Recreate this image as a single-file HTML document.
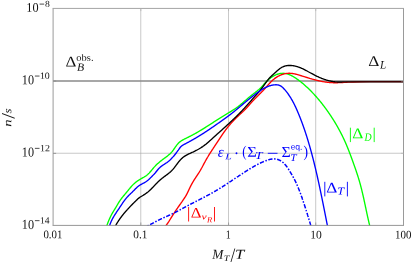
<!DOCTYPE html>
<html><head><meta charset="utf-8"><title>plot</title>
<style>html,body{margin:0;padding:0;background:#fff;}body{width:413px;height:265px;overflow:hidden;font-family:"Liberation Serif",serif;}</style></head>
<body>
<svg width="413" height="265" viewBox="0 0 413 265" style="display:block;font-kerning:none;will-change:transform">
<rect width="413" height="265" fill="#fff"/>
<defs><clipPath id="c"><rect x="53.10" y="8.50" width="350.40" height="217.40"/></clipPath></defs>
<line x1="140.78" y1="8.50" x2="140.78" y2="225.40" stroke="#a4a4a4" stroke-width="0.6"/>
<line x1="228.50" y1="8.50" x2="228.50" y2="225.40" stroke="#a4a4a4" stroke-width="0.6"/>
<line x1="315.70" y1="8.50" x2="315.70" y2="225.40" stroke="#a4a4a4" stroke-width="0.6"/>
<line x1="53.10" y1="153.25" x2="403.50" y2="153.25" stroke="#a4a4a4" stroke-width="0.6"/>
<line x1="53.10" y1="80.90" x2="403.50" y2="80.90" stroke="#8a8a8a" stroke-width="1.5"/>
<g clip-path="url(#c)" fill="none" stroke-width="1.35" stroke-linejoin="round">
<path d="M106.42 227.01 L106.63 226.33 L106.85 225.65 L107.08 224.97 L107.31 224.30 L107.55 223.62 L107.80 222.96 L108.05 222.29 L108.31 221.63 L108.58 220.97 L108.85 220.31 L109.13 219.66 L109.42 219.01 L109.71 218.36 L110.01 217.72 L110.31 217.08 L110.63 216.44 L110.94 215.81 L111.27 215.18 L111.60 214.55 L111.94 213.93 L112.28 213.31 L112.63 212.70 L112.99 212.08 L113.35 211.47 L113.72 210.87 L114.09 210.26 L114.47 209.66 L114.84 209.05 L115.22 208.45 L115.59 207.84 L115.96 207.23 L116.32 206.62 L116.68 206.00 L117.04 205.38 L117.40 204.77 L117.76 204.15 L118.12 203.53 L118.48 202.92 L118.85 202.32 L119.23 201.71 L119.62 201.12 L120.01 200.53 L120.42 199.96 L120.83 199.38 L121.25 198.82 L121.68 198.26 L122.11 197.70 L122.55 197.15 L122.99 196.60 L123.44 196.05 L123.89 195.51 L124.35 194.96 L124.80 194.42 L125.26 193.87 L125.72 193.33 L126.17 192.78 L126.63 192.23 L127.09 191.68 L127.54 191.13 L127.99 190.57 L128.44 190.01 L128.89 189.45 L129.34 188.90 L129.80 188.34 L130.26 187.79 L130.72 187.25 L131.18 186.71 L131.66 186.17 L132.14 185.65 L132.62 185.13 L133.12 184.62 L133.62 184.13 L134.13 183.64 L134.66 183.17 L135.19 182.72 L135.74 182.28 L136.30 181.84 L136.86 181.42 L137.44 181.02 L138.02 180.62 L138.61 180.23 L139.21 179.85 L139.81 179.48 L140.42 179.11 L141.04 178.75 L141.66 178.40 L142.29 178.05 L142.91 177.70 L143.54 177.35 L144.16 177.00 L144.77 176.63 L145.37 176.25 L145.96 175.86 L146.53 175.45 L147.08 175.02 L147.62 174.57 L148.14 174.09 L148.64 173.60 L149.13 173.10 L149.61 172.58 L150.08 172.05 L150.54 171.51 L151.00 170.96 L151.45 170.41 L151.91 169.86 L152.36 169.30 L152.81 168.75 L153.27 168.21 L153.74 167.67 L154.21 167.13 L154.69 166.61 L155.18 166.09 L155.67 165.58 L156.17 165.08 L156.68 164.58 L157.20 164.10 L157.72 163.62 L158.24 163.14 L158.78 162.67 L159.31 162.21 L159.86 161.76 L160.41 161.31 L160.96 160.87 L161.52 160.43 L162.09 160.00 L162.65 159.58 L163.23 159.16 L163.80 158.73 L164.37 158.31 L164.94 157.89 L165.51 157.47 L166.08 157.05 L166.64 156.62 L167.20 156.19 L167.75 155.75 L168.30 155.30 L168.84 154.84 L169.37 154.38 L169.89 153.90 L170.40 153.42 L170.89 152.91 L171.38 152.40 L171.85 151.87 L172.30 151.32 L172.75 150.76 L173.18 150.19 L173.60 149.60 L174.02 149.01 L174.43 148.42 L174.85 147.82 L175.26 147.23 L175.67 146.64 L176.09 146.05 L176.52 145.47 L176.95 144.91 L177.40 144.36 L177.86 143.82 L178.33 143.30 L178.83 142.80 L179.34 142.33 L179.88 141.88 L180.43 141.46 L181.01 141.06 L181.60 140.67 L182.20 140.30 L182.82 139.95 L183.44 139.61 L184.07 139.27 L184.71 138.95 L185.35 138.63 L185.99 138.31 L186.62 137.99 L187.26 137.67 L187.90 137.35 L188.54 137.03 L189.17 136.71 L189.81 136.38 L190.44 136.06 L191.08 135.74 L191.71 135.41 L192.34 135.08 L192.97 134.75 L193.59 134.41 L194.22 134.07 L194.84 133.73 L195.46 133.39 L196.08 133.04 L196.70 132.69 L197.31 132.34 L197.93 131.98 L198.54 131.63 L199.15 131.27 L199.77 130.90 L200.37 130.54 L200.98 130.17 L201.59 129.81 L202.19 129.44 L202.80 129.06 L203.40 128.69 L204.01 128.31 L204.61 127.94 L205.21 127.56 L205.81 127.18 L206.41 126.80 L207.01 126.42 L207.61 126.04 L208.21 125.65 L208.81 125.27 L209.40 124.88 L210.00 124.50 L210.60 124.11 L211.19 123.73 L211.79 123.34 L212.39 122.95 L212.98 122.57 L213.58 122.18 L214.18 121.80 L214.78 121.41 L215.37 121.02 L215.97 120.64 L216.57 120.25 L217.17 119.87 L217.77 119.49 L218.37 119.10 L218.97 118.72 L219.57 118.34 L220.17 117.96 L220.77 117.58 L221.38 117.21 L221.98 116.83 L222.59 116.46 L223.19 116.09 L223.80 115.72 L224.41 115.35 L225.02 114.98 L225.63 114.61 L226.24 114.25 L226.85 113.88 L227.46 113.52 L228.07 113.16 L228.68 112.79 L229.29 112.42 L229.90 112.06 L230.51 111.69 L231.11 111.32 L231.72 110.94 L232.32 110.57 L232.92 110.19 L233.51 109.80 L234.11 109.41 L234.70 109.02 L235.29 108.63 L235.87 108.22 L236.45 107.82 L237.02 107.40 L237.60 106.99 L238.16 106.56 L238.72 106.13 L239.28 105.69 L239.84 105.25 L240.39 104.80 L240.93 104.35 L241.48 103.89 L242.02 103.43 L242.56 102.97 L243.10 102.50 L243.64 102.03 L244.17 101.56 L244.71 101.09 L245.25 100.62 L245.78 100.15 L246.32 99.68 L246.86 99.21 L247.39 98.75 L247.93 98.28 L248.48 97.82 L249.02 97.36 L249.57 96.90 L250.12 96.45 L250.67 96.00 L251.23 95.55 L251.79 95.11 L252.36 94.68 L252.92 94.24 L253.49 93.81 L254.05 93.38 L254.62 92.95 L255.18 92.52 L255.74 92.08 L256.30 91.64 L256.86 91.20 L257.41 90.76 L257.95 90.31 L258.49 89.85 L259.02 89.39 L259.54 88.91 L260.05 88.43 L260.56 87.94 L261.05 87.44 L261.54 86.93 L262.01 86.41 L262.49 85.88 L262.95 85.36 L263.42 84.83 L263.89 84.30 L264.36 83.77 L264.84 83.24 L265.32 82.72 L265.81 82.21 L266.30 81.70 L266.80 81.19 L267.31 80.70 L267.83 80.21 L268.35 79.73 L268.89 79.26 L269.43 78.80 L269.99 78.36 L270.56 77.92 L271.13 77.51 L271.72 77.10 L272.32 76.71 L272.93 76.34 L273.55 75.98 L274.18 75.64 L274.82 75.32 L275.47 75.01 L276.14 74.73 L276.81 74.47 L277.49 74.23 L278.18 74.02 L278.87 73.83 L279.57 73.66 L280.27 73.53 L280.97 73.42 L281.67 73.35 L282.37 73.30 L283.07 73.28 L283.77 73.30 L284.47 73.36 L285.16 73.44 L285.84 73.56 L286.52 73.71 L287.20 73.89 L287.87 74.10 L288.53 74.33 L289.19 74.58 L289.85 74.86 L290.50 75.16 L291.15 75.47 L291.79 75.80 L292.42 76.15 L293.05 76.51 L293.67 76.88 L294.29 77.25 L294.90 77.64 L295.51 78.03 L296.11 78.43 L296.70 78.83 L297.29 79.24 L297.87 79.66 L298.45 80.08 L299.02 80.50 L299.59 80.93 L300.15 81.36 L300.71 81.80 L301.27 82.24 L301.82 82.69 L302.37 83.14 L302.91 83.60 L303.45 84.05 L303.99 84.52 L304.52 84.98 L305.05 85.45 L305.58 85.92 L306.10 86.40 L306.62 86.88 L307.14 87.36 L307.66 87.84 L308.17 88.33 L308.68 88.82 L309.19 89.31 L309.70 89.81 L310.20 90.31 L310.70 90.81 L311.20 91.32 L311.70 91.82 L312.19 92.34 L312.68 92.85 L313.17 93.36 L313.65 93.88 L314.13 94.40 L314.61 94.93 L315.09 95.45 L315.56 95.98 L316.04 96.51 L316.51 97.04 L316.97 97.58 L317.44 98.12 L317.90 98.66 L318.36 99.20 L318.82 99.74 L319.28 100.29 L319.73 100.84 L320.18 101.39 L320.63 101.94 L321.07 102.50 L321.52 103.05 L321.96 103.61 L322.40 104.17 L322.83 104.74 L323.27 105.30 L323.70 105.87 L324.13 106.43 L324.56 107.00 L324.98 107.57 L325.41 108.15 L325.83 108.72 L326.25 109.30 L326.66 109.87 L327.08 110.45 L327.49 111.03 L327.90 111.62 L328.31 112.20 L328.71 112.78 L329.12 113.37 L329.52 113.96 L329.92 114.55 L330.32 115.14 L330.71 115.73 L331.10 116.32 L331.49 116.92 L331.88 117.51 L332.27 118.11 L332.65 118.71 L333.03 119.31 L333.41 119.91 L333.79 120.51 L334.16 121.12 L334.53 121.72 L334.90 122.33 L335.27 122.94 L335.63 123.55 L335.99 124.16 L336.35 124.77 L336.71 125.39 L337.07 126.00 L337.42 126.62 L337.77 127.24 L338.11 127.86 L338.46 128.48 L338.80 129.10 L339.14 129.72 L339.48 130.35 L339.81 130.98 L340.15 131.60 L340.48 132.23 L340.80 132.86 L341.13 133.49 L341.45 134.13 L341.77 134.76 L342.09 135.40 L342.40 136.03 L342.71 136.67 L343.02 137.31 L343.33 137.95 L343.63 138.59 L343.93 139.24 L344.23 139.88 L344.53 140.53 L344.82 141.17 L345.11 141.82 L345.40 142.47 L345.68 143.12 L345.97 143.77 L346.25 144.43 L346.52 145.08 L346.80 145.73 L347.07 146.39 L347.34 147.05 L347.61 147.71 L347.88 148.37 L348.14 149.02 L348.40 149.69 L348.66 150.35 L348.92 151.01 L349.18 151.67 L349.44 152.34 L349.69 153.00 L349.94 153.67 L350.20 154.33 L350.45 155.00 L350.70 155.66 L350.94 156.33 L351.19 157.00 L351.44 157.67 L351.68 158.34 L351.92 159.00 L352.17 159.67 L352.41 160.34 L352.65 161.01 L352.89 161.68 L353.13 162.35 L353.37 163.02 L353.61 163.69 L353.85 164.36 L354.09 165.03 L354.33 165.70 L354.56 166.37 L354.80 167.04 L355.03 167.72 L355.27 168.39 L355.50 169.06 L355.73 169.73 L355.96 170.40 L356.19 171.08 L356.42 171.75 L356.64 172.42 L356.87 173.10 L357.09 173.77 L357.31 174.45 L357.53 175.13 L357.75 175.80 L357.96 176.48 L358.18 177.16 L358.39 177.83 L358.60 178.51 L358.80 179.19 L359.01 179.87 L359.21 180.55 L359.41 181.23 L359.60 181.92 L359.80 182.60 L359.99 183.28 L360.18 183.97 L360.37 184.65 L360.55 185.34 L360.73 186.02 L360.91 186.71 L361.09 187.40 L361.27 188.09 L361.44 188.78 L361.61 189.46 L361.78 190.15 L361.95 190.84 L362.12 191.54 L362.28 192.23 L362.45 192.92 L362.61 193.61 L362.77 194.30 L362.93 195.00 L363.09 195.69 L363.25 196.38 L363.40 197.08 L363.56 197.77 L363.71 198.46 L363.87 199.16 L364.02 199.85 L364.17 200.55 L364.32 201.24 L364.47 201.94 L364.62 202.63 L364.77 203.33 L364.92 204.03 L365.07 204.72 L365.22 205.42 L365.36 206.11 L365.51 206.81 L365.66 207.51 L365.81 208.20 L365.95 208.90 L366.10 209.59 L366.25 210.29 L366.40 210.99 L366.54 211.68 L366.69 212.38 L366.84 213.07 L366.99 213.77 L367.14 214.46 L367.29 215.16 L367.44 215.85 L367.59 216.55 L367.75 217.24 L367.90 217.94 L368.06 218.63 L368.21 219.32 L368.37 220.02 L368.53 220.71 L368.69 221.40 L368.85 222.09 L369.01 222.79 L369.17 223.48 L369.34 224.17 L369.50 224.86 L369.67 225.55 L369.84 226.24 L370.01 226.92 L370.19 227.61 L370.36 228.30 L370.54 228.99" stroke="#00ff00"/>
<path d="M163.27 228.98 L163.57 228.64 L163.86 228.30 L164.15 227.95 L164.44 227.60 L164.72 227.25 L165.00 226.90 L165.27 226.54 L165.54 226.18 L165.81 225.82 L166.08 225.46 L166.35 225.10 L166.61 224.74 L166.87 224.37 L167.12 224.00 L167.38 223.63 L167.63 223.26 L167.88 222.89 L168.13 222.52 L168.38 222.14 L168.63 221.77 L168.87 221.39 L169.11 221.01 L169.36 220.64 L169.60 220.26 L169.84 219.88 L170.08 219.50 L170.32 219.12 L170.56 218.74 L170.79 218.36 L171.03 217.98 L171.27 217.59 L171.51 217.21 L171.74 216.83 L171.98 216.45 L172.22 216.07 L172.46 215.69 L172.70 215.31 L172.93 214.93 L173.17 214.55 L173.42 214.17 L173.66 213.79 L173.90 213.41 L174.15 213.04 L174.39 212.66 L174.64 212.28 L174.89 211.91 L175.14 211.54 L175.39 211.16 L175.64 210.79 L175.89 210.42 L176.14 210.05 L176.40 209.67 L176.65 209.30 L176.90 208.93 L177.16 208.56 L177.42 208.20 L177.67 207.83 L177.93 207.46 L178.19 207.09 L178.45 206.72 L178.70 206.35 L178.96 205.99 L179.22 205.62 L179.48 205.25 L179.74 204.88 L180.00 204.52 L180.26 204.15 L180.52 203.78 L180.78 203.42 L181.03 203.05 L181.29 202.68 L181.55 202.31 L181.81 201.94 L182.07 201.58 L182.32 201.21 L182.58 200.84 L182.83 200.47 L183.09 200.10 L183.34 199.73 L183.60 199.36 L183.85 198.99 L184.10 198.62 L184.35 198.25 L184.59 197.87 L184.84 197.50 L185.08 197.12 L185.32 196.74 L185.55 196.36 L185.78 195.98 L186.01 195.59 L186.23 195.20 L186.45 194.81 L186.66 194.42 L186.87 194.02 L187.07 193.63 L187.27 193.23 L187.47 192.82 L187.67 192.42 L187.86 192.02 L188.05 191.61 L188.24 191.20 L188.43 190.80 L188.62 190.39 L188.80 189.98 L188.99 189.57 L189.18 189.16 L189.37 188.76 L189.56 188.35 L189.76 187.94 L189.95 187.54 L190.15 187.14 L190.35 186.73 L190.55 186.33 L190.76 185.93 L190.96 185.53 L191.17 185.14 L191.38 184.74 L191.59 184.34 L191.81 183.95 L192.03 183.55 L192.24 183.16 L192.47 182.77 L192.69 182.38 L192.91 181.99 L193.14 181.61 L193.37 181.22 L193.60 180.83 L193.84 180.45 L194.07 180.07 L194.31 179.69 L194.55 179.31 L194.80 178.93 L195.04 178.55 L195.29 178.18 L195.53 177.80 L195.78 177.43 L196.03 177.05 L196.28 176.68 L196.53 176.30 L196.78 175.93 L197.03 175.56 L197.28 175.18 L197.53 174.81 L197.78 174.43 L198.02 174.06 L198.27 173.68 L198.51 173.30 L198.76 172.93 L199.00 172.55 L199.24 172.17 L199.47 171.78 L199.70 171.40 L199.94 171.01 L200.16 170.63 L200.39 170.24 L200.62 169.85 L200.84 169.46 L201.06 169.07 L201.28 168.68 L201.50 168.29 L201.71 167.89 L201.93 167.50 L202.14 167.10 L202.36 166.71 L202.57 166.31 L202.78 165.91 L203.00 165.52 L203.21 165.12 L203.42 164.73 L203.63 164.33 L203.84 163.93 L204.05 163.53 L204.26 163.14 L204.48 162.74 L204.69 162.35 L204.90 161.95 L205.12 161.56 L205.33 161.16 L205.55 160.77 L205.77 160.38 L205.98 159.98 L206.20 159.59 L206.43 159.20 L206.65 158.81 L206.87 158.43 L207.10 158.04 L207.33 157.65 L207.56 157.27 L207.78 156.88 L208.02 156.50 L208.25 156.11 L208.48 155.73 L208.71 155.35 L208.95 154.97 L209.18 154.58 L209.42 154.20 L209.66 153.82 L209.90 153.44 L210.14 153.06 L210.38 152.69 L210.62 152.31 L210.86 151.93 L211.10 151.55 L211.35 151.18 L211.59 150.80 L211.84 150.42 L212.08 150.05 L212.33 149.67 L212.57 149.30 L212.82 148.92 L213.07 148.55 L213.31 148.17 L213.56 147.80 L213.81 147.42 L214.06 147.05 L214.31 146.68 L214.55 146.30 L214.80 145.93 L215.05 145.56 L215.30 145.18 L215.55 144.81 L215.80 144.44 L216.05 144.06 L216.30 143.69 L216.55 143.31 L216.80 142.94 L217.05 142.57 L217.30 142.19 L217.55 141.82 L217.80 141.44 L218.04 141.07 L218.29 140.69 L218.54 140.32 L218.79 139.94 L219.03 139.57 L219.28 139.19 L219.53 138.82 L219.78 138.44 L220.02 138.07 L220.27 137.69 L220.52 137.32 L220.77 136.94 L221.02 136.57 L221.27 136.19 L221.52 135.82 L221.77 135.45 L222.02 135.08 L222.27 134.70 L222.52 134.33 L222.78 133.96 L223.03 133.59 L223.28 133.22 L223.54 132.85 L223.80 132.48 L224.06 132.12 L224.32 131.75 L224.58 131.39 L224.84 131.02 L225.10 130.66 L225.37 130.30 L225.63 129.94 L225.90 129.58 L226.17 129.22 L226.44 128.86 L226.72 128.51 L226.99 128.15 L227.27 127.80 L227.55 127.45 L227.83 127.10 L228.11 126.75 L228.39 126.40 L228.68 126.06 L228.97 125.71 L229.25 125.37 L229.54 125.03 L229.84 124.69 L230.13 124.35 L230.42 124.01 L230.72 123.67 L231.02 123.34 L231.32 123.00 L231.62 122.67 L231.92 122.34 L232.22 122.00 L232.53 121.68 L232.83 121.35 L233.14 121.02 L233.45 120.69 L233.76 120.37 L234.07 120.05 L234.38 119.72 L234.70 119.40 L235.01 119.08 L235.33 118.76 L235.65 118.45 L235.97 118.13 L236.29 117.81 L236.61 117.50 L236.93 117.19 L237.26 116.87 L237.58 116.56 L237.91 116.25 L238.23 115.94 L238.56 115.64 L238.89 115.33 L239.22 115.02 L239.55 114.72 L239.88 114.41 L240.21 114.11 L240.54 113.80 L240.87 113.50 L241.20 113.19 L241.53 112.89 L241.86 112.58 L242.19 112.28 L242.52 111.97 L242.85 111.66 L243.17 111.36 L243.50 111.05 L243.82 110.74 L244.15 110.43 L244.47 110.11 L244.79 109.80 L245.11 109.48 L245.42 109.17 L245.74 108.85 L246.05 108.52 L246.36 108.20 L246.67 107.87 L246.97 107.54 L247.28 107.21 L247.58 106.88 L247.88 106.55 L248.18 106.21 L248.47 105.87 L248.77 105.53 L249.06 105.19 L249.36 104.85 L249.65 104.51 L249.95 104.17 L250.24 103.84 L250.54 103.50 L250.83 103.16 L251.13 102.82 L251.43 102.49 L251.73 102.15 L252.03 101.82 L252.33 101.49 L252.64 101.16 L252.94 100.83 L253.25 100.50 L253.56 100.18 L253.87 99.85 L254.18 99.53 L254.50 99.21 L254.81 98.89 L255.13 98.57 L255.44 98.25 L255.76 97.93 L256.08 97.61 L256.39 97.29 L256.71 96.98 L257.03 96.66 L257.35 96.34 L257.67 96.03 L257.98 95.71 L258.30 95.39 L258.62 95.08 L258.94 94.76 L259.26 94.45 L259.58 94.13 L259.90 93.81 L260.21 93.50 L260.53 93.18 L260.85 92.86 L261.16 92.54 L261.48 92.22 L261.79 91.90 L262.10 91.58 L262.41 91.26 L262.72 90.94 L263.03 90.61 L263.34 90.29 L263.65 89.96 L263.95 89.63 L264.25 89.30 L264.55 88.96 L264.85 88.63 L265.15 88.30 L265.45 87.96 L265.75 87.62 L266.04 87.28 L266.34 86.94 L266.64 86.61 L266.93 86.27 L267.23 85.93 L267.52 85.59 L267.82 85.25 L268.12 84.92 L268.42 84.58 L268.72 84.24 L269.02 83.91 L269.32 83.58 L269.62 83.25 L269.93 82.92 L270.24 82.60 L270.55 82.27 L270.86 81.95 L271.18 81.64 L271.50 81.32 L271.82 81.01 L272.14 80.70 L272.47 80.40 L272.80 80.10 L273.14 79.80 L273.48 79.51 L273.82 79.22 L274.17 78.94 L274.52 78.66 L274.88 78.39 L275.24 78.12 L275.60 77.86 L275.98 77.61 L276.35 77.36 L276.73 77.11 L277.12 76.88 L277.51 76.65 L277.90 76.42 L278.30 76.20 L278.70 75.99 L279.11 75.79 L279.52 75.59 L279.93 75.40 L280.35 75.21 L280.77 75.04 L281.19 74.87 L281.61 74.71 L282.04 74.55 L282.47 74.41 L282.90 74.27 L283.33 74.14 L283.76 74.02 L284.20 73.91 L284.64 73.81 L285.08 73.71 L285.52 73.63 L285.96 73.55 L286.40 73.48 L286.84 73.42 L287.28 73.38 L287.72 73.34 L288.17 73.31 L288.61 73.29 L289.05 73.28 L289.49 73.28 L289.93 73.29 L290.38 73.31 L290.82 73.34 L291.26 73.37 L291.70 73.42 L292.14 73.47 L292.57 73.53 L293.01 73.60 L293.45 73.67 L293.89 73.75 L294.33 73.84 L294.76 73.93 L295.20 74.03 L295.64 74.13 L296.08 74.24 L296.51 74.35 L296.95 74.47 L297.38 74.59 L297.82 74.71 L298.25 74.83 L298.69 74.96 L299.12 75.09 L299.56 75.22 L299.99 75.36 L300.43 75.49 L300.86 75.62 L301.30 75.76 L301.73 75.89 L302.16 76.03 L302.60 76.16 L303.03 76.30 L303.46 76.43 L303.90 76.57 L304.33 76.70 L304.76 76.84 L305.19 76.97 L305.63 77.10 L306.06 77.24 L306.49 77.37 L306.93 77.50 L307.36 77.64 L307.79 77.77 L308.22 77.90 L308.66 78.03 L309.09 78.16 L309.52 78.29 L309.95 78.42 L310.39 78.54 L310.82 78.67 L311.25 78.80 L311.69 78.92 L312.12 79.04 L312.55 79.17 L312.99 79.29 L313.42 79.41 L313.85 79.53 L314.29 79.64 L314.72 79.76 L315.15 79.87 L315.59 79.99 L316.02 80.10 L316.46 80.21 L316.89 80.32 L317.33 80.42 L317.76 80.53 L318.20 80.63 L318.63 80.73 L319.07 80.83 L319.50 80.93 L319.94 81.03 L320.38 81.12 L320.81 81.21 L321.25 81.30 L321.69 81.39 L322.13 81.47 L322.57 81.55 L323.00 81.63 L323.44 81.71 L323.88 81.79 L324.32 81.86 L324.76 81.93 L325.20 82.00 L325.64 82.06 L326.08 82.13 L326.53 82.19 L326.97 82.24 L327.41 82.30 L327.85 82.35 L328.30 82.39 L328.74 82.44 L329.19 82.48 L329.63 82.52 L330.08 82.56 L330.52 82.59 L330.97 82.62 L331.42 82.64 L331.86 82.67 L332.31 82.69 L332.76 82.70 L333.21 82.71 L333.66 82.73 L334.11 82.73 L334.56 82.74 L335.01 82.74 L335.46 82.74 L335.91 82.74 L336.37 82.73 L336.82 82.73 L337.27 82.72 L337.72 82.71 L338.17 82.69 L338.63 82.68 L339.08 82.66 L339.53 82.65 L339.98 82.63 L340.44 82.61 L340.89 82.58 L341.34 82.56 L341.79 82.54 L342.24 82.51 L342.70 82.49 L343.15 82.46 L343.60 82.44 L344.05 82.41 L344.50 82.39 L344.95 82.36 L345.40 82.33 L345.85 82.30 L346.30 82.28 L346.75 82.25 L347.20 82.22 L347.65 82.20 L348.10 82.17 L348.54 82.15 L348.99 82.12 L349.44 82.10 L349.88 82.08 L350.33 82.06 L350.77 82.04 L351.21 82.02 L351.66 82.00 L352.10 81.99 L352.54 81.97 L352.98 81.96 L360.00 81.75 L370.00 81.65 L404.00 81.60" stroke="#ff0000"/>
<path d="M114.87 226.99 L115.11 226.54 L115.35 226.09 L115.59 225.64 L115.83 225.20 L116.08 224.75 L116.34 224.31 L116.59 223.87 L116.85 223.44 L117.12 223.00 L117.38 222.57 L117.65 222.14 L117.92 221.71 L118.20 221.29 L118.47 220.86 L118.75 220.44 L119.04 220.02 L119.32 219.60 L119.61 219.19 L119.90 218.77 L120.20 218.36 L120.49 217.95 L120.79 217.54 L121.09 217.14 L121.40 216.73 L121.70 216.33 L122.01 215.93 L122.32 215.53 L122.64 215.13 L122.95 214.73 L123.27 214.34 L123.59 213.94 L123.91 213.55 L124.23 213.16 L124.56 212.77 L124.89 212.38 L125.21 212.00 L125.55 211.61 L125.88 211.23 L126.21 210.85 L126.55 210.47 L126.89 210.09 L127.22 209.71 L127.57 209.34 L127.91 208.96 L128.25 208.59 L128.60 208.22 L128.94 207.84 L129.29 207.47 L129.64 207.10 L129.99 206.74 L130.34 206.37 L130.69 206.00 L131.04 205.64 L131.40 205.27 L131.75 204.91 L132.11 204.55 L132.47 204.19 L132.82 203.83 L133.18 203.47 L133.54 203.11 L133.90 202.75 L134.26 202.39 L134.62 202.04 L134.98 201.68 L135.35 201.33 L135.71 200.97 L136.07 200.62 L136.43 200.26 L136.80 199.91 L137.16 199.56 L137.52 199.21 L137.89 198.87 L138.27 198.53 L138.65 198.20 L139.04 197.89 L139.45 197.59 L139.86 197.30 L140.29 197.03 L140.72 196.76 L141.16 196.50 L141.60 196.25 L142.04 195.99 L142.48 195.73 L142.91 195.47 L143.34 195.20 L143.77 194.93 L144.20 194.65 L144.62 194.37 L145.04 194.09 L145.45 193.80 L145.86 193.51 L146.27 193.21 L146.68 192.91 L147.08 192.60 L147.47 192.29 L147.87 191.98 L148.26 191.66 L148.64 191.33 L149.03 191.00 L149.40 190.67 L149.78 190.33 L150.15 189.99 L150.52 189.64 L150.88 189.29 L151.25 188.93 L151.61 188.57 L151.96 188.21 L152.32 187.85 L152.67 187.49 L153.03 187.12 L153.38 186.75 L153.73 186.38 L154.08 186.01 L154.43 185.64 L154.78 185.27 L155.13 184.90 L155.48 184.53 L155.83 184.16 L156.18 183.79 L156.53 183.42 L156.89 183.06 L157.24 182.69 L157.60 182.33 L157.96 181.97 L158.32 181.62 L158.69 181.27 L159.05 180.92 L159.43 180.57 L159.80 180.23 L160.18 179.89 L160.56 179.56 L160.94 179.24 L161.33 178.91 L161.73 178.60 L162.12 178.28 L162.52 177.97 L162.92 177.67 L163.33 177.36 L163.73 177.06 L164.14 176.76 L164.55 176.46 L164.95 176.16 L165.36 175.86 L165.77 175.56 L166.18 175.26 L166.58 174.96 L166.99 174.65 L167.39 174.35 L167.79 174.04 L168.19 173.73 L168.58 173.42 L168.97 173.10 L169.36 172.78 L169.75 172.46 L170.13 172.13 L170.50 171.79 L170.88 171.45 L171.24 171.10 L171.60 170.75 L171.95 170.38 L172.30 170.01 L172.64 169.64 L172.98 169.25 L173.31 168.87 L173.64 168.47 L173.96 168.08 L174.28 167.67 L174.60 167.27 L174.91 166.86 L175.23 166.45 L175.54 166.04 L175.85 165.62 L176.15 165.21 L176.46 164.80 L176.77 164.38 L177.08 163.97 L177.39 163.56 L177.70 163.14 L178.01 162.74 L178.32 162.33 L178.64 161.93 L178.96 161.53 L179.28 161.14 L179.61 160.75 L179.94 160.37 L180.27 159.99 L180.61 159.62 L180.96 159.26 L181.31 158.90 L181.67 158.56 L182.04 158.22 L182.41 157.89 L182.79 157.57 L183.18 157.26 L183.57 156.96 L183.98 156.67 L184.39 156.39 L184.80 156.12 L185.23 155.85 L185.65 155.60 L186.09 155.34 L186.53 155.10 L186.97 154.86 L187.42 154.63 L187.87 154.40 L188.32 154.17 L188.78 153.95 L189.24 153.73 L189.70 153.52 L190.17 153.30 L190.63 153.09 L191.10 152.88 L191.56 152.67 L192.03 152.46 L192.50 152.24 L192.96 152.03 L193.43 151.82 L193.89 151.60 L194.35 151.38 L194.81 151.16 L195.27 150.94 L195.72 150.71 L196.17 150.47 L196.62 150.24 L197.07 150.00 L197.51 149.76 L197.96 149.51 L198.40 149.27 L198.84 149.01 L199.27 148.76 L199.70 148.50 L200.13 148.24 L200.56 147.97 L200.99 147.70 L201.41 147.43 L201.83 147.15 L202.25 146.87 L202.67 146.59 L203.08 146.30 L203.49 146.01 L203.90 145.71 L204.31 145.41 L204.71 145.11 L205.11 144.80 L205.51 144.49 L205.91 144.18 L206.30 143.86 L206.69 143.54 L207.08 143.21 L207.47 142.89 L207.86 142.55 L208.24 142.22 L208.63 141.89 L209.01 141.55 L209.39 141.21 L209.77 140.87 L210.15 140.53 L210.52 140.19 L210.90 139.84 L211.28 139.50 L211.65 139.15 L212.03 138.81 L212.41 138.47 L212.78 138.12 L213.16 137.78 L213.53 137.44 L213.91 137.09 L214.29 136.75 L214.66 136.41 L215.04 136.07 L215.42 135.73 L215.79 135.39 L216.17 135.05 L216.55 134.71 L216.92 134.37 L217.30 134.03 L217.68 133.69 L218.06 133.35 L218.43 133.01 L218.81 132.67 L219.19 132.34 L219.56 132.00 L219.94 131.66 L220.32 131.32 L220.69 130.98 L221.07 130.64 L221.45 130.31 L221.82 129.97 L222.20 129.63 L222.57 129.29 L222.95 128.95 L223.33 128.61 L223.70 128.27 L224.08 127.93 L224.45 127.60 L224.83 127.26 L225.20 126.92 L225.58 126.58 L225.95 126.24 L226.32 125.89 L226.70 125.55 L227.07 125.21 L227.45 124.87 L227.82 124.53 L228.19 124.18 L228.56 123.84 L228.94 123.50 L229.31 123.15 L229.68 122.81 L230.05 122.46 L230.42 122.12 L230.79 121.77 L231.16 121.42 L231.53 121.08 L231.90 120.73 L232.27 120.38 L232.64 120.03 L233.00 119.68 L233.37 119.33 L233.74 118.98 L234.10 118.63 L234.47 118.28 L234.84 117.92 L235.20 117.57 L235.56 117.22 L235.93 116.86 L236.29 116.51 L236.65 116.15 L237.01 115.80 L237.37 115.44 L237.73 115.08 L238.09 114.72 L238.45 114.36 L238.81 114.00 L239.17 113.64 L239.52 113.28 L239.88 112.92 L240.24 112.55 L240.59 112.19 L240.94 111.83 L241.30 111.46 L241.65 111.10 L242.00 110.73 L242.35 110.36 L242.70 109.99 L243.04 109.62 L243.39 109.25 L243.74 108.88 L244.08 108.51 L244.43 108.14 L244.77 107.76 L245.11 107.39 L245.45 107.02 L245.79 106.64 L246.13 106.26 L246.47 105.89 L246.81 105.51 L247.15 105.13 L247.49 104.75 L247.82 104.37 L248.16 103.99 L248.49 103.61 L248.83 103.23 L249.16 102.85 L249.50 102.47 L249.83 102.09 L250.17 101.71 L250.50 101.33 L250.84 100.95 L251.17 100.57 L251.51 100.19 L251.84 99.80 L252.18 99.42 L252.51 99.04 L252.85 98.66 L253.18 98.29 L253.52 97.91 L253.86 97.53 L254.19 97.15 L254.53 96.77 L254.87 96.40 L255.21 96.02 L255.55 95.65 L255.89 95.27 L256.23 94.89 L256.57 94.52 L256.91 94.14 L257.25 93.77 L257.58 93.39 L257.92 93.01 L258.26 92.63 L258.59 92.25 L258.92 91.87 L259.25 91.48 L259.58 91.09 L259.90 90.71 L260.23 90.32 L260.55 89.92 L260.86 89.53 L261.18 89.13 L261.49 88.73 L261.80 88.32 L262.10 87.92 L262.40 87.51 L262.70 87.10 L263.00 86.68 L263.29 86.27 L263.59 85.85 L263.88 85.44 L264.17 85.02 L264.46 84.60 L264.76 84.19 L265.05 83.77 L265.34 83.35 L265.64 82.94 L265.93 82.53 L266.23 82.12 L266.53 81.71 L266.83 81.30 L267.13 80.90 L267.44 80.50 L267.75 80.10 L268.06 79.71 L268.38 79.32 L268.70 78.93 L269.03 78.55 L269.36 78.17 L269.69 77.80 L270.04 77.44 L270.39 77.08 L270.74 76.73 L271.10 76.38 L271.46 76.03 L271.83 75.69 L272.20 75.34 L272.57 75.01 L272.95 74.67 L273.32 74.33 L273.70 73.99 L274.08 73.65 L274.47 73.31 L274.85 72.96 L275.23 72.61 L275.61 72.26 L276.00 71.91 L276.38 71.56 L276.77 71.21 L277.15 70.87 L277.54 70.52 L277.94 70.18 L278.33 69.85 L278.73 69.52 L279.13 69.19 L279.54 68.88 L279.95 68.57 L280.36 68.28 L280.78 68.00 L281.21 67.72 L281.64 67.46 L282.07 67.22 L282.52 66.99 L282.97 66.77 L283.42 66.58 L283.89 66.40 L284.36 66.23 L284.84 66.09 L285.32 65.96 L285.81 65.84 L286.30 65.74 L286.79 65.66 L287.30 65.59 L287.80 65.54 L288.31 65.50 L288.82 65.47 L289.33 65.45 L289.84 65.45 L290.35 65.46 L290.87 65.49 L291.38 65.52 L291.90 65.57 L292.41 65.62 L292.92 65.69 L293.43 65.77 L293.94 65.85 L294.45 65.95 L294.95 66.06 L295.45 66.17 L295.94 66.29 L296.43 66.42 L296.92 66.56 L297.41 66.70 L297.89 66.86 L298.37 67.02 L298.85 67.18 L299.32 67.35 L299.79 67.53 L300.26 67.72 L300.72 67.91 L301.19 68.10 L301.65 68.30 L302.11 68.51 L302.57 68.72 L303.02 68.93 L303.48 69.15 L303.93 69.37 L304.38 69.60 L304.83 69.83 L305.28 70.06 L305.73 70.29 L306.18 70.53 L306.63 70.77 L307.07 71.01 L307.52 71.25 L307.96 71.50 L308.41 71.74 L308.85 71.99 L309.30 72.23 L309.74 72.48 L310.19 72.73 L310.63 72.98 L311.08 73.22 L311.52 73.47 L311.97 73.71 L312.42 73.96 L312.87 74.20 L313.32 74.44 L313.77 74.68 L314.22 74.91 L314.67 75.15 L315.13 75.38 L315.59 75.61 L316.04 75.83 L316.50 76.06 L316.96 76.28 L317.42 76.50 L317.88 76.72 L318.34 76.93 L318.81 77.14 L319.27 77.35 L319.74 77.55 L320.21 77.75 L320.68 77.95 L321.15 78.14 L321.62 78.33 L322.09 78.52 L322.56 78.70 L323.04 78.88 L323.51 79.05 L323.99 79.23 L324.47 79.39 L324.94 79.55 L325.42 79.71 L325.91 79.87 L326.39 80.02 L326.87 80.16 L327.36 80.30 L327.84 80.43 L328.33 80.56 L328.82 80.69 L329.31 80.81 L329.80 80.92 L330.29 81.03 L330.78 81.14 L331.28 81.24 L331.77 81.33 L332.27 81.42 L332.77 81.50 L333.27 81.57 L333.77 81.64 L334.27 81.71 L334.77 81.76 L335.27 81.82 L335.78 81.86 L336.28 81.90 L336.79 81.93 L337.30 81.96 L337.81 81.98 L338.32 81.99 L338.83 82.00 L339.34 82.00 L339.85 82.00 L340.36 81.99 L340.88 81.98 L341.39 81.97 L341.90 81.96 L342.42 81.94 L342.93 81.93 L343.44 81.91 L343.95 81.90 L344.46 81.89 L344.97 81.88 L345.48 81.87 L345.99 81.87 L346.49 81.87 L347.00 81.87 L347.50 81.88 L348.00 81.89 L348.50 81.92 L348.99 81.94 L404.00 81.93" stroke="#000000"/>
<path d="M109.21 227.02 L109.38 226.39 L109.56 225.77 L109.75 225.15 L109.95 224.53 L110.17 223.93 L110.39 223.33 L110.63 222.74 L110.88 222.15 L111.13 221.56 L111.39 220.99 L111.67 220.41 L111.95 219.85 L112.23 219.28 L112.53 218.72 L112.83 218.17 L113.14 217.61 L113.45 217.07 L113.77 216.52 L114.10 215.98 L114.43 215.44 L114.76 214.90 L115.10 214.36 L115.44 213.83 L115.79 213.30 L116.14 212.77 L116.49 212.24 L116.84 211.71 L117.20 211.18 L117.56 210.65 L117.91 210.13 L118.27 209.60 L118.63 209.07 L118.99 208.54 L119.34 208.01 L119.70 207.48 L120.05 206.95 L120.41 206.42 L120.76 205.88 L121.11 205.35 L121.46 204.82 L121.82 204.28 L122.17 203.75 L122.53 203.22 L122.89 202.70 L123.25 202.17 L123.61 201.65 L123.98 201.13 L124.36 200.62 L124.73 200.11 L125.12 199.60 L125.51 199.10 L125.90 198.61 L126.31 198.12 L126.72 197.64 L127.14 197.17 L127.56 196.70 L128.00 196.24 L128.44 195.79 L128.89 195.34 L129.34 194.89 L129.79 194.45 L130.25 194.01 L130.71 193.57 L131.17 193.13 L131.64 192.68 L132.10 192.24 L132.55 191.79 L133.01 191.34 L133.46 190.89 L133.91 190.43 L134.36 189.97 L134.81 189.51 L135.26 189.05 L135.71 188.60 L136.17 188.15 L136.63 187.71 L137.10 187.27 L137.58 186.85 L138.06 186.45 L138.56 186.05 L139.06 185.67 L139.58 185.31 L140.11 184.97 L140.66 184.65 L141.21 184.34 L141.77 184.04 L142.34 183.74 L142.90 183.45 L143.47 183.15 L144.03 182.86 L144.58 182.55 L145.13 182.23 L145.67 181.90 L146.19 181.55 L146.70 181.18 L147.21 180.80 L147.70 180.40 L148.18 180.00 L148.66 179.58 L149.13 179.15 L149.59 178.72 L150.05 178.28 L150.50 177.83 L150.95 177.38 L151.40 176.93 L151.85 176.48 L152.30 176.02 L152.74 175.57 L153.19 175.11 L153.63 174.65 L154.07 174.19 L154.50 173.72 L154.93 173.25 L155.35 172.77 L155.76 172.28 L156.17 171.78 L156.57 171.28 L156.97 170.78 L157.37 170.28 L157.77 169.78 L158.18 169.29 L158.60 168.81 L159.03 168.34 L159.47 167.89 L159.93 167.45 L160.40 167.04 L160.89 166.64 L161.39 166.25 L161.90 165.88 L162.42 165.51 L162.95 165.16 L163.48 164.81 L164.01 164.46 L164.55 164.11 L165.09 163.77 L165.62 163.42 L166.15 163.06 L166.68 162.70 L167.19 162.33 L167.70 161.95 L168.20 161.55 L168.69 161.15 L169.18 160.74 L169.65 160.32 L170.12 159.89 L170.58 159.45 L171.03 159.01 L171.48 158.55 L171.92 158.09 L172.35 157.63 L172.78 157.16 L173.20 156.68 L173.62 156.20 L174.03 155.72 L174.43 155.23 L174.83 154.74 L175.23 154.24 L175.62 153.74 L176.00 153.23 L176.39 152.72 L176.77 152.20 L177.15 151.69 L177.52 151.16 L177.89 150.64 L178.27 150.11 L178.63 149.58 L179.00 149.05 L179.38 148.52 L179.76 148.00 L180.15 147.49 L180.56 147.01 L181.00 146.55 L181.45 146.12 L181.94 145.73 L182.45 145.37 L182.99 145.04 L183.54 144.73 L184.10 144.43 L184.66 144.14 L185.23 143.85 L185.79 143.55 L186.36 143.25 L186.92 142.96 L187.48 142.66 L188.04 142.36 L188.60 142.06 L189.16 141.75 L189.72 141.45 L190.28 141.14 L190.84 140.83 L191.39 140.52 L191.95 140.21 L192.50 139.90 L193.05 139.58 L193.61 139.27 L194.16 138.95 L194.71 138.63 L195.26 138.31 L195.81 137.99 L196.35 137.66 L196.90 137.34 L197.45 137.01 L197.99 136.68 L198.53 136.35 L199.08 136.02 L199.62 135.69 L200.16 135.35 L200.70 135.02 L201.24 134.68 L201.78 134.34 L202.31 134.00 L202.85 133.66 L203.38 133.32 L203.92 132.97 L204.45 132.63 L204.98 132.28 L205.52 131.93 L206.05 131.58 L206.58 131.23 L207.11 130.88 L207.64 130.53 L208.16 130.17 L208.69 129.82 L209.22 129.46 L209.75 129.10 L210.27 128.75 L210.80 128.39 L211.32 128.03 L211.85 127.67 L212.37 127.31 L212.90 126.95 L213.42 126.59 L213.95 126.23 L214.47 125.87 L214.99 125.50 L215.52 125.14 L216.04 124.78 L216.56 124.41 L217.09 124.05 L217.61 123.69 L218.13 123.32 L218.65 122.96 L219.18 122.59 L219.70 122.23 L220.22 121.86 L220.74 121.50 L221.26 121.13 L221.78 120.76 L222.30 120.39 L222.82 120.02 L223.34 119.65 L223.86 119.28 L224.38 118.91 L224.90 118.54 L225.41 118.16 L225.93 117.79 L226.44 117.41 L226.95 117.04 L227.47 116.66 L227.98 116.28 L228.49 115.90 L229.00 115.52 L229.50 115.13 L230.01 114.75 L230.52 114.36 L231.02 113.97 L231.52 113.58 L232.02 113.19 L232.52 112.80 L233.02 112.40 L233.52 112.01 L234.01 111.61 L234.51 111.21 L235.00 110.81 L235.50 110.41 L235.99 110.01 L236.48 109.60 L236.97 109.20 L237.46 108.79 L237.94 108.39 L238.43 107.98 L238.92 107.57 L239.41 107.16 L239.89 106.75 L240.38 106.34 L240.86 105.93 L241.35 105.52 L241.84 105.11 L242.32 104.70 L242.81 104.29 L243.29 103.88 L243.78 103.47 L244.26 103.06 L244.75 102.65 L245.24 102.25 L245.72 101.84 L246.21 101.43 L246.70 101.02 L247.19 100.62 L247.68 100.21 L248.17 99.80 L248.66 99.40 L249.15 99.00 L249.65 98.60 L250.14 98.20 L250.64 97.80 L251.13 97.40 L251.63 97.00 L252.13 96.61 L252.63 96.22 L253.14 95.82 L253.64 95.43 L254.15 95.05 L254.65 94.66 L255.16 94.28 L255.68 93.90 L256.19 93.52 L256.70 93.14 L257.22 92.76 L257.74 92.39 L258.26 92.02 L258.79 91.66 L259.31 91.29 L259.84 90.93 L260.38 90.57 L260.91 90.22 L261.45 89.88 L261.99 89.54 L262.53 89.20 L263.08 88.88 L263.63 88.56 L264.19 88.25 L264.75 87.95 L265.31 87.66 L265.88 87.38 L266.45 87.11 L267.03 86.85 L267.61 86.60 L268.20 86.37 L268.79 86.14 L269.39 85.94 L269.99 85.74 L270.60 85.57 L271.21 85.40 L271.83 85.26 L272.46 85.13 L273.09 85.02 L273.73 84.93 L274.37 84.85 L275.01 84.80 L275.66 84.77 L276.30 84.78 L276.94 84.81 L277.57 84.88 L278.18 84.99 L278.79 85.13 L279.37 85.32 L279.94 85.56 L280.49 85.84 L281.01 86.17 L281.53 86.52 L282.02 86.91 L282.50 87.33 L282.97 87.77 L283.43 88.23 L283.87 88.70 L284.31 89.18 L284.74 89.67 L285.17 90.16 L285.58 90.66 L285.99 91.16 L286.39 91.66 L286.79 92.17 L287.18 92.68 L287.57 93.19 L287.94 93.71 L288.32 94.23 L288.68 94.75 L289.04 95.28 L289.40 95.81 L289.75 96.34 L290.09 96.87 L290.43 97.41 L290.77 97.95 L291.10 98.50 L291.42 99.04 L291.74 99.59 L292.06 100.14 L292.37 100.69 L292.67 101.25 L292.98 101.81 L293.27 102.37 L293.57 102.93 L293.86 103.49 L294.15 104.06 L294.43 104.63 L294.71 105.20 L294.99 105.77 L295.26 106.34 L295.53 106.91 L295.80 107.49 L296.06 108.07 L296.32 108.65 L296.58 109.23 L296.84 109.81 L297.09 110.39 L297.35 110.97 L297.60 111.56 L297.84 112.14 L298.09 112.73 L298.34 113.31 L298.58 113.90 L298.82 114.49 L299.06 115.08 L299.30 115.67 L299.54 116.26 L299.77 116.85 L300.01 117.44 L300.24 118.03 L300.47 118.62 L300.70 119.22 L300.93 119.81 L301.16 120.40 L301.38 121.00 L301.61 121.60 L301.83 122.19 L302.05 122.79 L302.27 123.38 L302.49 123.98 L302.71 124.58 L302.92 125.18 L303.14 125.78 L303.35 126.38 L303.56 126.98 L303.77 127.58 L303.98 128.18 L304.19 128.78 L304.40 129.38 L304.60 129.99 L304.81 130.59 L305.01 131.19 L305.21 131.80 L305.41 132.40 L305.61 133.01 L305.81 133.61 L306.01 134.22 L306.21 134.82 L306.40 135.43 L306.59 136.04 L306.79 136.65 L306.98 137.25 L307.17 137.86 L307.36 138.47 L307.55 139.08 L307.73 139.69 L307.92 140.30 L308.10 140.91 L308.29 141.52 L308.47 142.13 L308.65 142.74 L308.83 143.35 L309.01 143.96 L309.19 144.57 L309.37 145.18 L309.55 145.80 L309.72 146.41 L309.90 147.02 L310.07 147.63 L310.24 148.25 L310.42 148.86 L310.59 149.47 L310.76 150.09 L310.93 150.70 L311.09 151.32 L311.26 151.93 L311.43 152.54 L311.59 153.16 L311.76 153.77 L311.92 154.39 L312.09 155.00 L312.25 155.62 L312.41 156.24 L312.57 156.85 L312.73 157.47 L312.89 158.08 L313.05 158.70 L313.21 159.32 L313.36 159.93 L313.52 160.55 L313.68 161.17 L313.83 161.78 L313.98 162.40 L314.14 163.02 L314.29 163.64 L314.44 164.25 L314.59 164.87 L314.74 165.49 L314.89 166.11 L315.04 166.73 L315.19 167.34 L315.34 167.96 L315.49 168.58 L315.63 169.20 L315.78 169.82 L315.92 170.44 L316.07 171.06 L316.21 171.68 L316.36 172.30 L316.50 172.92 L316.64 173.54 L316.78 174.16 L316.93 174.78 L317.07 175.40 L317.21 176.02 L317.35 176.64 L317.49 177.26 L317.62 177.88 L317.76 178.50 L317.90 179.12 L318.04 179.74 L318.18 180.36 L318.31 180.98 L318.45 181.60 L318.58 182.23 L318.72 182.85 L318.86 183.47 L318.99 184.09 L319.12 184.71 L319.26 185.33 L319.39 185.96 L319.52 186.58 L319.66 187.20 L319.79 187.82 L319.92 188.45 L320.05 189.07 L320.18 189.69 L320.32 190.31 L320.45 190.94 L320.58 191.56 L320.71 192.18 L320.84 192.81 L320.97 193.43 L321.10 194.05 L321.23 194.67 L321.36 195.30 L321.48 195.92 L321.61 196.55 L321.74 197.17 L321.87 197.79 L322.00 198.42 L322.12 199.04 L322.25 199.66 L322.38 200.29 L322.51 200.91 L322.63 201.54 L322.76 202.16 L322.89 202.78 L323.01 203.41 L323.14 204.03 L323.26 204.66 L323.39 205.28 L323.51 205.90 L323.64 206.53 L323.76 207.15 L323.89 207.78 L324.01 208.40 L324.14 209.03 L324.26 209.65 L324.39 210.28 L324.51 210.90 L324.64 211.52 L324.76 212.15 L324.88 212.77 L325.01 213.40 L325.13 214.02 L325.25 214.65 L325.38 215.27 L325.50 215.90 L325.62 216.52 L325.75 217.14 L325.87 217.77 L325.99 218.39 L326.12 219.02 L326.24 219.64 L326.36 220.27 L326.48 220.89 L326.61 221.52 L326.73 222.14 L326.85 222.76 L326.97 223.39 L327.10 224.01 L327.22 224.64 L327.34 225.26 L327.46 225.88 L327.58 226.51 L327.71 227.13 L327.83 227.76 L327.95 228.38 L328.07 229.00" stroke="#0000ff"/>
<path d="M142.00 228.50 L142.36 228.35 L142.72 228.20 L143.07 228.04 L143.43 227.89 L143.79 227.73 L144.14 227.57 L144.49 227.41 L144.85 227.24 L145.20 227.08 L145.55 226.91 L145.90 226.74 L146.25 226.57 L146.60 226.40 L146.95 226.23 L147.30 226.06 L147.64 225.88 L147.99 225.71 L148.34 225.53 L148.68 225.36 L149.03 225.18 L149.37 225.00 L149.72 224.82 L150.06 224.64 L150.41 224.46 L150.75 224.28 L151.09 224.10 L151.44 223.91 L151.78 223.73 L152.12 223.55 L152.47 223.37 L152.81 223.18 L153.15 223.00 L153.49 222.82 L153.84 222.64 L154.18 222.45 L154.52 222.27 L154.87 222.09 L155.21 221.91 L155.55 221.72 L155.90 221.54 L156.24 221.36 L156.59 221.18 L156.93 221.00 L157.28 220.82 L157.62 220.65 L157.97 220.47 L158.31 220.29 L158.66 220.12 L159.01 219.94 L159.36 219.77 L159.70 219.60 L160.05 219.43 L160.40 219.26 L160.75 219.09 L161.10 218.92 L161.45 218.75 L161.81 218.59 L162.16 218.42 L162.51 218.26 L162.87 218.10 L163.22 217.94 L163.57 217.77 L163.93 217.61 L164.28 217.45 L164.64 217.29 L164.99 217.13 L165.35 216.98 L165.70 216.82 L166.06 216.66 L166.41 216.50 L166.77 216.34 L167.12 216.18 L167.48 216.03 L167.83 215.87 L168.19 215.71 L168.55 215.55 L168.90 215.39 L169.25 215.23 L169.61 215.07 L169.96 214.91 L170.32 214.75 L170.67 214.59 L171.02 214.43 L171.38 214.26 L171.73 214.10 L172.08 213.93 L172.43 213.77 L172.78 213.60 L173.13 213.43 L173.48 213.26 L173.83 213.09 L174.18 212.92 L174.53 212.75 L174.87 212.57 L175.22 212.40 L175.56 212.22 L175.91 212.04 L176.25 211.86 L176.60 211.68 L176.94 211.50 L177.28 211.32 L177.63 211.14 L177.97 210.95 L178.31 210.77 L178.65 210.59 L178.99 210.40 L179.33 210.21 L179.67 210.03 L180.02 209.84 L180.36 209.66 L180.70 209.47 L181.04 209.28 L181.38 209.09 L181.72 208.91 L182.06 208.72 L182.40 208.53 L182.74 208.35 L183.08 208.16 L183.42 207.97 L183.76 207.79 L184.10 207.60 L184.44 207.42 L184.79 207.23 L185.13 207.05 L185.47 206.86 L185.81 206.68 L186.15 206.49 L186.50 206.31 L186.84 206.13 L187.18 205.95 L187.53 205.77 L187.87 205.58 L188.22 205.40 L188.56 205.22 L188.91 205.04 L189.25 204.86 L189.59 204.68 L189.94 204.50 L190.28 204.32 L190.63 204.14 L190.98 203.96 L191.32 203.79 L191.67 203.61 L192.01 203.43 L192.36 203.25 L192.70 203.07 L193.05 202.90 L193.40 202.72 L193.74 202.54 L194.09 202.36 L194.44 202.19 L194.78 202.01 L195.13 201.83 L195.48 201.65 L195.82 201.48 L196.17 201.30 L196.51 201.12 L196.86 200.95 L197.21 200.77 L197.55 200.59 L197.90 200.42 L198.25 200.24 L198.59 200.06 L198.94 199.88 L199.29 199.71 L199.63 199.53 L199.98 199.35 L200.33 199.18 L200.67 199.00 L201.02 198.82 L201.36 198.64 L201.71 198.46 L202.06 198.29 L202.40 198.11 L202.75 197.93 L203.09 197.75 L203.44 197.57 L203.78 197.39 L204.13 197.21 L204.47 197.03 L204.82 196.85 L205.16 196.67 L205.50 196.49 L205.85 196.31 L206.19 196.13 L206.54 195.94 L206.88 195.76 L207.22 195.58 L207.57 195.40 L207.91 195.21 L208.25 195.03 L208.59 194.85 L208.93 194.66 L209.28 194.48 L209.62 194.29 L209.96 194.10 L210.30 193.92 L210.64 193.73 L210.98 193.54 L211.32 193.35 L211.66 193.17 L212.00 192.98 L212.34 192.79 L212.67 192.60 L213.01 192.41 L213.35 192.21 L213.69 192.02 L214.02 191.83 L214.36 191.63 L214.70 191.44 L215.03 191.25 L215.37 191.05 L215.70 190.85 L216.04 190.66 L216.37 190.46 L216.71 190.26 L217.04 190.06 L217.37 189.86 L217.70 189.66 L218.04 189.46 L218.37 189.26 L218.70 189.06 L219.03 188.86 L219.36 188.65 L219.69 188.45 L220.02 188.25 L220.35 188.04 L220.68 187.84 L221.01 187.63 L221.34 187.43 L221.67 187.22 L222.00 187.01 L222.33 186.81 L222.65 186.60 L222.98 186.39 L223.31 186.18 L223.64 185.97 L223.96 185.76 L224.29 185.55 L224.62 185.34 L224.94 185.13 L225.27 184.92 L225.59 184.71 L225.92 184.50 L226.25 184.29 L226.57 184.07 L226.90 183.86 L227.22 183.65 L227.55 183.44 L227.87 183.22 L228.20 183.01 L228.52 182.80 L228.84 182.58 L229.17 182.37 L229.49 182.15 L229.82 181.94 L230.14 181.73 L230.46 181.51 L230.79 181.30 L231.11 181.08 L231.43 180.87 L231.76 180.65 L232.08 180.43 L232.40 180.22 L232.73 180.00 L233.05 179.79 L233.37 179.57 L233.70 179.36 L234.02 179.14 L234.34 178.92 L234.67 178.71 L234.99 178.49 L235.31 178.28 L235.64 178.06 L235.96 177.84 L236.28 177.63 L236.61 177.41 L236.93 177.20 L237.25 176.98 L237.58 176.77 L237.90 176.55 L238.23 176.34 L238.55 176.12 L238.87 175.91 L239.20 175.69 L239.52 175.48 L239.85 175.26 L240.17 175.05 L240.49 174.83 L240.82 174.62 L241.14 174.40 L241.47 174.19 L241.79 173.98 L242.12 173.76 L242.44 173.55 L242.77 173.34 L243.10 173.13 L243.42 172.92 L243.75 172.70 L244.07 172.49 L244.40 172.28 L244.73 172.07 L245.05 171.86 L245.38 171.65 L245.71 171.44 L246.04 171.23 L246.36 171.02 L246.69 170.81 L247.02 170.61 L247.35 170.40 L247.68 170.19 L248.01 169.98 L248.34 169.78 L248.67 169.57 L249.00 169.37 L249.33 169.16 L249.66 168.96 L249.99 168.76 L250.32 168.55 L250.66 168.35 L250.99 168.15 L251.32 167.95 L251.65 167.75 L251.99 167.55 L252.32 167.35 L252.66 167.16 L252.99 166.96 L253.33 166.77 L253.67 166.57 L254.00 166.38 L254.34 166.19 L254.68 166.00 L255.02 165.81 L255.36 165.62 L255.70 165.43 L256.04 165.25 L256.38 165.06 L256.73 164.88 L257.07 164.70 L257.41 164.52 L257.76 164.34 L258.10 164.16 L258.45 163.98 L258.80 163.81 L259.14 163.64 L259.49 163.46 L259.84 163.29 L260.19 163.13 L260.55 162.96 L260.90 162.79 L261.25 162.63 L261.61 162.47 L261.96 162.31 L262.32 162.15 L262.67 162.00 L263.03 161.84 L263.39 161.69 L263.75 161.54 L264.11 161.40 L264.48 161.25 L264.84 161.11 L265.20 160.97 L265.57 160.83 L265.94 160.69 L266.30 160.55 L266.67 160.42 L267.04 160.29 L267.42 160.16 L267.79 160.04 L268.16 159.92 L268.54 159.80 L268.91 159.69 L269.29 159.58 L269.66 159.48 L270.04 159.38 L270.42 159.29 L270.80 159.21 L271.18 159.14 L271.56 159.07 L271.94 159.01 L272.32 158.96 L272.70 158.92 L273.08 158.89 L273.46 158.87 L273.84 158.86 L274.22 158.86 L274.60 158.88 L274.98 158.90 L275.36 158.94 L275.74 158.99 L276.11 159.06 L276.49 159.13 L276.87 159.22 L277.24 159.33 L277.61 159.44 L277.98 159.56 L278.35 159.70 L278.71 159.84 L279.07 160.00 L279.43 160.16 L279.78 160.34 L280.13 160.52 L280.48 160.71 L280.82 160.91 L281.15 161.12 L281.48 161.34 L281.81 161.56 L282.13 161.79 L282.44 162.03 L282.75 162.27 L283.05 162.52 L283.34 162.78 L283.63 163.04 L283.91 163.31 L284.19 163.58 L284.46 163.86 L284.72 164.14 L284.98 164.43 L285.24 164.72 L285.49 165.01 L285.74 165.31 L285.98 165.62 L286.22 165.92 L286.46 166.23 L286.69 166.55 L286.92 166.86 L287.14 167.18 L287.36 167.50 L287.58 167.83 L287.80 168.15 L288.02 168.48 L288.23 168.81 L288.44 169.14 L288.65 169.47 L288.86 169.80 L289.06 170.13 L289.27 170.47 L289.47 170.80 L289.68 171.14 L289.88 171.47 L290.08 171.80 L290.29 172.14 L290.49 172.47 L290.69 172.80 L290.89 173.14 L291.09 173.47 L291.29 173.80 L291.49 174.14 L291.69 174.47 L291.89 174.80 L292.08 175.14 L292.28 175.47 L292.47 175.81 L292.67 176.15 L292.86 176.48 L293.05 176.82 L293.23 177.16 L293.42 177.50 L293.61 177.84 L293.79 178.18 L293.97 178.52 L294.15 178.86 L294.33 179.20 L294.51 179.55 L294.68 179.89 L294.86 180.24 L295.03 180.58 L295.20 180.93 L295.37 181.28 L295.54 181.63 L295.71 181.98 L295.88 182.33 L296.04 182.68 L296.20 183.03 L296.37 183.38 L296.53 183.73 L296.69 184.09 L296.84 184.44 L297.00 184.80 L297.16 185.15 L297.31 185.51 L297.46 185.86 L297.62 186.22 L297.77 186.58 L297.92 186.94 L298.07 187.29 L298.22 187.65 L298.36 188.01 L298.51 188.37 L298.65 188.73 L298.80 189.09 L298.94 189.46 L299.08 189.82 L299.22 190.18 L299.36 190.54 L299.50 190.91 L299.64 191.27 L299.78 191.63 L299.92 192.00 L300.05 192.36 L300.19 192.73 L300.33 193.09 L300.46 193.46 L300.59 193.82 L300.73 194.19 L300.86 194.55 L300.99 194.92 L301.12 195.29 L301.25 195.66 L301.38 196.02 L301.51 196.39 L301.64 196.76 L301.77 197.12 L301.90 197.49 L302.02 197.86 L302.15 198.23 L302.28 198.60 L302.40 198.97 L302.53 199.33 L302.65 199.70 L302.78 200.07 L302.90 200.44 L303.03 200.81 L303.15 201.18 L303.28 201.54 L303.40 201.91 L303.52 202.28 L303.65 202.65 L303.77 203.02 L303.89 203.39 L304.02 203.76 L304.14 204.13 L304.26 204.49 L304.38 204.86 L304.51 205.23 L304.63 205.60 L304.75 205.97 L304.87 206.34 L304.99 206.71 L305.11 207.08 L305.23 207.44 L305.35 207.81 L305.47 208.18 L305.59 208.55 L305.71 208.92 L305.83 209.29 L305.95 209.66 L306.07 210.03 L306.19 210.40 L306.30 210.77 L306.42 211.14 L306.54 211.51 L306.66 211.88 L306.77 212.25 L306.89 212.61 L307.01 212.98 L307.12 213.35 L307.24 213.72 L307.36 214.09 L307.47 214.47 L307.59 214.84 L307.70 215.21 L307.82 215.58 L307.93 215.95 L308.05 216.32 L308.16 216.69 L308.27 217.06 L308.39 217.43 L308.50 217.80 L308.61 218.17 L308.73 218.55 L308.84 218.92 L308.95 219.29 L309.06 219.66 L309.18 220.03 L309.29 220.41 L309.40 220.78 L309.51 221.15 L309.62 221.52 L309.73 221.90 L309.84 222.27 L309.95 222.64 L310.06 223.02 L310.17 223.39 L310.28 223.76 L310.39 224.14 L310.49 224.51 L310.60 224.88 L310.71 225.26 L310.82 225.63 L310.93 226.01 L311.03 226.38 L311.14 226.76 L311.25 227.13 L311.35 227.51 L311.46 227.89 L311.56 228.26 L311.67 228.64 L311.77 229.01" stroke="#0000ff" stroke-width="1.5" stroke-dasharray="4.3 1.6 1.5 1.6"/>
</g>
<line x1="52.60" y1="8.42" x2="404.00" y2="8.42" stroke="#a4a4a4" stroke-width="1"/>
<line x1="52.60" y1="225.40" x2="404.00" y2="225.40" stroke="#969696" stroke-width="1"/>
<line x1="53.10" y1="8.50" x2="53.10" y2="225.40" stroke="#9a9a9a" stroke-width="1"/>
<line x1="403.50" y1="8.50" x2="403.50" y2="225.40" stroke="#9a9a9a" stroke-width="1"/>
<line x1="140.83" y1="225.40" x2="140.83" y2="222.50" stroke="#888" stroke-width="0.7"/>
<line x1="140.83" y1="8.50" x2="140.83" y2="11.10" stroke="#b0b0b0" stroke-width="0.7"/>
<line x1="228.55" y1="225.40" x2="228.55" y2="222.50" stroke="#888" stroke-width="0.7"/>
<line x1="228.55" y1="8.50" x2="228.55" y2="11.10" stroke="#b0b0b0" stroke-width="0.7"/>
<line x1="315.75" y1="225.40" x2="315.75" y2="222.50" stroke="#888" stroke-width="0.7"/>
<line x1="315.75" y1="8.50" x2="315.75" y2="11.10" stroke="#b0b0b0" stroke-width="0.7"/>
<line x1="53.10" y1="81.05" x2="56.10" y2="81.05" stroke="#888" stroke-width="0.8"/>
<line x1="403.50" y1="81.00" x2="400.90" y2="81.00" stroke="#b4b4b4" stroke-width="0.7"/>
<line x1="53.10" y1="153.35" x2="56.10" y2="153.35" stroke="#888" stroke-width="0.8"/>
<line x1="403.50" y1="153.30" x2="400.90" y2="153.30" stroke="#b4b4b4" stroke-width="0.7"/>
<text transform="matrix(0.6121 0.001 0 0.6595 26.324 11.771)" font-family="Liberation Serif" font-style="normal" font-size="20" fill="#111">10</text>
<text transform="matrix(0.4837 0.001 0 0.4520 44.932 6.712)" font-family="Liberation Serif" font-style="normal" font-size="20" fill="#111">8</text>
<line x1="39.60" y1="4.10" x2="44.20" y2="4.10" stroke="#111" stroke-width="0.75"/>
<text transform="matrix(0.6121 0.001 0 0.6743 21.824 84.268)" font-family="Liberation Serif" font-style="normal" font-size="20" fill="#111">10</text>
<text transform="matrix(0.4920 0.001 0 0.4668 39.935 78.809)" font-family="Liberation Serif" font-style="normal" font-size="20" fill="#111">10</text>
<line x1="34.90" y1="76.05" x2="39.50" y2="76.05" stroke="#111" stroke-width="0.75"/>
<text transform="matrix(0.6121 0.001 0 0.6743 21.824 156.568)" font-family="Liberation Serif" font-style="normal" font-size="20" fill="#111">10</text>
<text transform="matrix(0.5018 0.001 0 0.4758 39.918 151.200)" font-family="Liberation Serif" font-style="normal" font-size="20" fill="#111">12</text>
<line x1="34.90" y1="148.35" x2="39.50" y2="148.35" stroke="#111" stroke-width="0.75"/>
<text transform="matrix(0.6121 0.001 0 0.6743 21.824 228.868)" font-family="Liberation Serif" font-style="normal" font-size="20" fill="#111">10</text>
<text transform="matrix(0.4797 0.001 0 0.4772 39.957 223.500)" font-family="Liberation Serif" font-style="normal" font-size="20" fill="#111">14</text>
<line x1="34.90" y1="220.65" x2="39.50" y2="220.65" stroke="#111" stroke-width="0.75"/>
<text transform="matrix(0.5418 0.001 0 0.5816 43.387 238.335)" font-family="Liberation Serif" font-style="normal" font-size="20" fill="#111">0.01</text>
<text transform="matrix(0.5643 0.001 0 0.5816 133.270 238.335)" font-family="Liberation Serif" font-style="normal" font-size="20" fill="#111">0.1</text>
<text transform="matrix(0.4971 0.001 0 0.5983 225.726 238.500)" font-family="Liberation Serif" font-style="normal" font-size="20" fill="#111">1</text>
<text transform="matrix(0.5778 0.001 0 0.5854 310.184 238.386)" font-family="Liberation Serif" font-style="normal" font-size="20" fill="#111">10</text>
<text transform="matrix(0.5458 0.001 0 0.5854 395.041 238.386)" font-family="Liberation Serif" font-style="normal" font-size="20" fill="#111">100</text>
<text transform="matrix(0.6681 0.001 0 0.6796 212.257 258.700)" font-family="Liberation Serif" font-style="italic" font-size="20" fill="#111">M</text>
<text transform="matrix(0.5002 0.001 0 0.4200 223.645 260.900)" font-family="Liberation Serif" font-style="italic" font-size="20" fill="#111">T</text>
<text transform="matrix(0.8638 0.001 0 1.0091 230.500 261.703)" font-family="Liberation Serif" font-style="normal" font-size="20" fill="#111">/</text>
<text transform="matrix(0.8367 0.001 0 0.6796 235.005 258.700)" font-family="Liberation Serif" font-style="italic" font-size="20" fill="#111">T</text>
<g transform="rotate(-90)">
<text transform="matrix(0.7331 0.001 0 0.5730 -126.823 11.300)" font-family="Liberation Serif" font-style="italic" font-size="20" fill="#111">n</text>
<text transform="matrix(1.0258 0.001 0 0.9493 -118.800 14.515)" font-family="Liberation Serif" font-style="normal" font-size="20" fill="#111">/</text>
<text transform="matrix(0.6490 0.001 0 0.5614 -113.458 11.190)" font-family="Liberation Serif" font-style="italic" font-size="20" fill="#111">s</text>
</g>
<text transform="matrix(0.8460 0.001 0 0.7422 65.456 66.500)" font-family="Liberation Serif" font-style="normal" font-size="20" fill="#111">Δ</text>
<text transform="matrix(0.5276 0.001 0 0.4767 76.298 60.715)" font-family="Liberation Serif" font-style="normal" font-size="20" fill="#111">obs.</text>
<text transform="matrix(0.5866 0.001 0 0.5626 77.091 70.767)" font-family="Liberation Serif" font-style="italic" font-size="20" fill="#111">B</text>
<text transform="matrix(0.8636 0.001 0 0.7422 368.142 65.900)" font-family="Liberation Serif" font-style="normal" font-size="20" fill="#111">Δ</text>
<text transform="matrix(0.5571 0.001 0 0.5651 380.031 68.600)" font-family="Liberation Serif" font-style="italic" font-size="20" fill="#111">L</text>
<line x1="350.40" y1="127.70" x2="350.40" y2="142.10" stroke="#00ff00" stroke-width="0.9"/>
<line x1="374.20" y1="127.70" x2="374.20" y2="142.10" stroke="#00ff00" stroke-width="0.9"/>
<text transform="matrix(0.8636 0.001 0 0.7422 352.342 138.200)" font-family="Liberation Serif" font-style="normal" font-size="20" fill="#00ff00">Δ</text>
<text transform="matrix(0.4942 0.001 0 0.5558 364.611 140.778)" font-family="Liberation Serif" font-style="italic" font-size="20" fill="#00ff00">D</text>
<line x1="324.80" y1="181.80" x2="324.80" y2="196.40" stroke="#0000ff" stroke-width="0.9"/>
<line x1="347.40" y1="181.80" x2="347.40" y2="196.40" stroke="#0000ff" stroke-width="0.9"/>
<text transform="matrix(0.8636 0.001 0 0.7385 326.342 192.450)" font-family="Liberation Serif" font-style="normal" font-size="20" fill="#0000ff">Δ</text>
<text transform="matrix(0.6275 0.001 0 0.5269 337.179 194.500)" font-family="Liberation Serif" font-style="italic" font-size="20" fill="#0000ff">T</text>
<line x1="188.60" y1="207.00" x2="188.60" y2="221.50" stroke="#ff0000" stroke-width="0.9"/>
<line x1="214.50" y1="207.00" x2="214.50" y2="221.50" stroke="#ff0000" stroke-width="0.9"/>
<text transform="matrix(0.8372 0.001 0 0.7195 190.662 217.600)" font-family="Liberation Serif" font-style="normal" font-size="20" fill="#ff0000">Δ</text>
<text transform="matrix(0.5812 0.001 0 0.4480 201.441 219.412)" font-family="Liberation Serif" font-style="italic" font-size="20" fill="#ff0000">ν</text>
<text transform="matrix(0.4253 0.001 0 0.3818 206.946 222.200)" font-family="Liberation Serif" font-style="italic" font-size="20" fill="#ff0000">R</text>
<text transform="matrix(0.7535 0.001 0 0.7381 217.676 156.856)" font-family="Liberation Serif" font-style="italic" font-size="20" fill="#0000ff">ε</text>
<text transform="matrix(0.5860 0.001 0 0.4276 225.237 159.300)" font-family="Liberation Serif" font-style="italic" font-size="20" fill="#0000ff">L</text>
<circle cx="236.5" cy="153.3" r="0.95" fill="#0000ff"/>
<text transform="matrix(0.6424 0.001 0 0.7830 242.135 156.466)" font-family="Liberation Serif" font-style="normal" font-size="20" fill="#0000ff">(</text>
<text transform="matrix(0.8220 0.001 0 0.7483 247.158 156.700)" font-family="Liberation Serif" font-style="normal" font-size="20" fill="#0000ff">Σ</text>
<text transform="matrix(0.6821 0.001 0 0.5422 255.007 159.000)" font-family="Liberation Serif" font-style="italic" font-size="20" fill="#0000ff">T</text>
<line x1="267.8" y1="153.3" x2="277.5" y2="153.3" stroke="#0000ff" stroke-width="0.9"/>
<text transform="matrix(0.7916 0.001 0 0.7636 281.482 156.900)" font-family="Liberation Serif" font-style="normal" font-size="20" fill="#0000ff">Σ</text>
<text transform="matrix(0.4156 0.001 0 0.4016 290.747 149.522)" font-family="Liberation Sans" font-style="normal" font-size="20" fill="#0000ff">e</text>
<text transform="matrix(0.4331 0.001 0 0.4091 295.136 149.602)" font-family="Liberation Sans" font-style="normal" font-size="20" fill="#0000ff">q</text>
<circle cx="301.2" cy="149.2" r="0.55" fill="#0000ff"/>
<text transform="matrix(0.5729 0.001 0 0.5116 290.350 161.000)" font-family="Liberation Serif" font-style="italic" font-size="20" fill="#0000ff">T</text>
<text transform="matrix(0.6814 0.001 0 0.8051 303.561 156.772)" font-family="Liberation Serif" font-style="normal" font-size="20" fill="#0000ff">)</text>
</svg>
</body></html>
